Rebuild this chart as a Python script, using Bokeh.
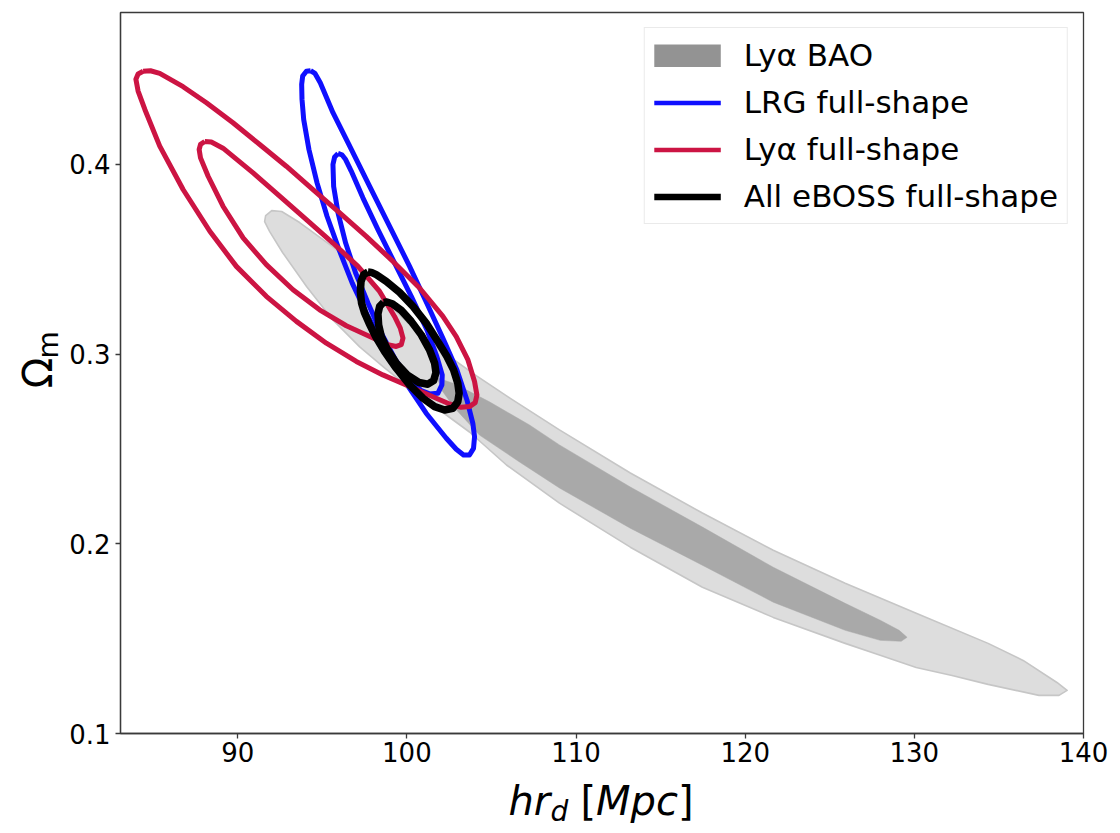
from math import pi
from bokeh.plotting import figure
from bokeh.layouts import row, column
from bokeh.models import Range1d, FixedTicker, Legend, LegendItem, Label
from bokeh.embed import file_html
from bokeh.resources import INLINE

# ---------------- data ----------------
x_ticks = [90, 100, 110, 120, 130, 140]
y_ticks = [0.1, 0.2, 0.3, 0.4]
x_limits = [83.07, 140.0]
y_limits = [0.1, 0.48]

# Ly-alpha BAO, outer (2 sigma) region
lya_bao_2sig_x = [91.65, 92.01, 92.60, 93.66, 95.61, 97.21, 98.39, 100.16, 102.11, 104.12,
                  106.07, 109.02, 113.21, 117.47, 121.66, 125.91, 130.11, 134.36, 136.43,
                  138.43, 139.03, 138.55, 137.37, 134.36, 132.23, 130.11, 127.98, 125.91,
                  121.66, 117.47, 113.21, 109.02, 105.89, 103.70, 101.93, 100.16, 98.68,
                  97.21, 95.61, 94.08, 92.66, 91.89, 91.59]
lya_bao_2sig_y = [0.3730, 0.3756, 0.3751, 0.3693, 0.3566, 0.3445, 0.3313, 0.3154, 0.3012, 0.2885,
                  0.2769, 0.2600, 0.2373, 0.2162, 0.1966, 0.1792, 0.1634, 0.1475, 0.1385,
                  0.1269, 0.1227, 0.1201, 0.1201, 0.1259, 0.1306, 0.1348, 0.1412, 0.1475,
                  0.1612, 0.1771, 0.1982, 0.2214, 0.2415, 0.2589, 0.2705, 0.2822, 0.2927,
                  0.3038, 0.3181, 0.3355, 0.3534, 0.3645, 0.3698]

# Ly-alpha BAO, inner (1 sigma) region
lya_bao_1sig_x = [101.81, 102.82, 104.88, 107.25, 109.02, 113.21, 117.47, 121.66, 125.91,
                  127.98, 129.10, 129.57, 129.22, 127.98, 125.91, 121.66, 117.47, 113.21,
                  109.02, 106.66, 104.29, 102.82, 102.05]
lya_bao_1sig_y = [0.2874, 0.2843, 0.2748, 0.2626, 0.2521, 0.2299, 0.2088, 0.1876, 0.1686,
                  0.1597, 0.1544, 0.1507, 0.1486, 0.1491, 0.1544, 0.1692, 0.1887, 0.2082,
                  0.2294, 0.2431, 0.2573, 0.2716, 0.2811]

# LRG full-shape contours
lrg_fs_2sig_x = [94.31, 94.06, 93.84, 93.78, 93.80, 93.90, 94.21, 94.69, 95.28, 95.99, 96.77,
                 97.70, 98.78, 99.96, 101.14, 102.33, 102.92, 103.35, 103.70, 103.94, 104.00,
                 103.90, 103.55, 102.96, 102.17, 101.18, 100.16, 98.98, 97.80, 96.62, 95.63,
                 94.88, 94.57]
lrg_fs_2sig_y = [0.4493, 0.4490, 0.4465, 0.4421, 0.4342, 0.4236, 0.4078, 0.3902, 0.3726, 0.3550,
                 0.3374, 0.3198, 0.3022, 0.2846, 0.2688, 0.2556, 0.2498, 0.2468, 0.2468, 0.2503,
                 0.2564, 0.2635, 0.2758, 0.2916, 0.3075, 0.3268, 0.3462, 0.3673, 0.3884, 0.4096,
                 0.4272, 0.4430, 0.4479]
lrg_fs_1sig_x = [95.93, 95.73, 95.63, 95.67, 95.93, 96.38, 96.97, 97.70, 98.49, 99.33, 100.16,
                 100.85, 101.34, 101.83, 102.07, 102.09, 101.77, 101.18, 100.26, 99.27, 98.29,
                 97.40, 96.71, 96.38, 96.16]
lrg_fs_1sig_y = [0.4057, 0.4039, 0.3999, 0.3884, 0.3744, 0.3585, 0.3427, 0.3269, 0.3110, 0.2969,
                 0.2864, 0.2807, 0.2790, 0.2793, 0.2837, 0.2890, 0.2987, 0.3128, 0.3304, 0.3480,
                 0.3656, 0.3823, 0.3964, 0.4025, 0.4050]

# Ly-alpha full-shape contours
lya_fs_2sig_x = [84.41, 84.84, 85.39, 86.77, 88.15, 89.72, 91.30, 92.87, 94.45, 96.03, 97.60,
                 99.18, 100.75, 102.13, 102.92, 103.61, 104.00, 104.14, 104.04, 103.70, 103.21,
                 102.52, 101.74, 100.16, 98.58, 97.01, 95.24, 93.47, 91.69, 89.92, 88.35,
                 86.77, 85.39, 84.51, 84.11, 83.98, 84.11]
lya_fs_2sig_y = [0.4490, 0.4493, 0.4479, 0.4409, 0.4324, 0.4219, 0.4104, 0.3990, 0.3867, 0.3744,
                 0.3620, 0.3488, 0.3348, 0.3198, 0.3092, 0.2969, 0.2855, 0.2784, 0.2744, 0.2723,
                 0.2719, 0.2737, 0.2767, 0.2829, 0.2890, 0.2961, 0.3057, 0.3172, 0.3304, 0.3462,
                 0.3647, 0.3867, 0.4096, 0.4289, 0.4386, 0.4448, 0.4476]
lya_fs_1sig_x = [88.05, 88.44, 89.13, 90.91, 92.48, 94.06, 95.63, 97.11, 98.39, 99.27, 99.61,
                 99.77, 99.67, 99.37, 98.88, 98.00, 96.42, 94.84, 93.27, 91.69, 90.32, 89.13,
                 88.25, 87.80, 87.72, 87.80]
lya_fs_1sig_y = [0.4120, 0.4117, 0.4085, 0.3955, 0.3832, 0.3708, 0.3585, 0.3462, 0.3330, 0.3198,
                 0.3137, 0.3084, 0.3049, 0.3040, 0.3049, 0.3084, 0.3149, 0.3233, 0.3339, 0.3471,
                 0.3612, 0.3779, 0.3937, 0.4034, 0.4078, 0.4105]

# All eBOSS full-shape contours
eboss_2sig_x = [97.70, 97.44, 97.29, 97.25, 97.32, 97.50, 97.76, 98.15, 98.68, 99.37, 100.16,
                100.95, 101.64, 102.23, 102.72, 103.01, 103.09, 103.01, 102.76, 102.37, 101.83,
                101.14, 100.36, 99.57, 98.78, 98.19, 97.90]
eboss_2sig_y = [0.3432, 0.3418, 0.3383, 0.3330, 0.3268, 0.3216, 0.3163, 0.3092, 0.3013, 0.2925,
                0.2837, 0.2767, 0.2723, 0.2705, 0.2714, 0.2749, 0.2793, 0.2846, 0.2916, 0.2987,
                0.3066, 0.3163, 0.3251, 0.3325, 0.3383, 0.3418, 0.3430]
eboss_1sig_x = [98.62, 98.39, 98.29, 98.33, 98.49, 98.84, 99.37, 100.02, 100.71, 101.24, 101.58,
                101.72, 101.64, 101.34, 100.85, 100.26, 99.67, 99.14, 98.82]
eboss_1sig_y = [0.3272, 0.3251, 0.3212, 0.3154, 0.3092, 0.3026, 0.2952, 0.2890, 0.2850, 0.2841,
                0.2860, 0.2902, 0.2952, 0.3022, 0.3101, 0.3172, 0.3230, 0.3265, 0.3274]

legend_labels = ["Lyα BAO", "LRG full-shape", "Lyα full-shape", "All eBOSS full-shape"]


def closed(v):
    return list(v) + [v[0]]


# ---------------- styles ----------------
BLUE = "#0f0fff"
RED = "#cc1443"
BLACK = "#000000"
FONT = "DejaVu Sans"
AXC = "#3a3a3a"

# ---------------- main plot ----------------
p = figure(width=1054, height=775, output_backend="svg", toolbar_location=None,
           x_range=Range1d(*x_limits), y_range=Range1d(*y_limits),
           min_border_left=54, min_border_right=37, min_border_top=12, min_border_bottom=42,
           background_fill_color="white", border_fill_color="white")

p.xgrid.visible = False
p.ygrid.visible = False
p.outline_line_color = AXC
p.outline_line_width = 1.3

p.xaxis.ticker = FixedTicker(ticks=x_ticks)
p.yaxis.ticker = FixedTicker(ticks=y_ticks)
for ax in (p.xaxis, p.yaxis):
    ax.major_label_text_font = FONT
    ax.major_label_text_font_size = "26px"
    ax.major_label_text_color = "black"
    ax.axis_line_color = AXC
    ax.axis_line_width = 1.3
    ax.major_tick_line_color = AXC
    ax.major_tick_line_width = 1.3
    ax.major_tick_out = 5
    ax.major_tick_in = 0
    ax.minor_tick_line_color = None
p.xaxis.major_label_standoff = 3
p.yaxis.major_label_standoff = 5

# BAO filled regions
p.patch(lya_bao_2sig_x, lya_bao_2sig_y, fill_color="#dddddd", line_color="#c6c6c6",
        line_width=1.6, line_join="round")
p.patch(lya_bao_1sig_x, lya_bao_1sig_y, fill_color="#a9a9a9", line_color="#a9a9a9",
        line_width=0.5, line_join="round")

# Contour lines
for xs, ys in ((lrg_fs_2sig_x, lrg_fs_2sig_y), (lrg_fs_1sig_x, lrg_fs_1sig_y)):
    p.line(closed(xs), closed(ys), line_color=BLUE, line_width=5, line_join="round")
for xs, ys in ((lya_fs_2sig_x, lya_fs_2sig_y), (lya_fs_1sig_x, lya_fs_1sig_y)):
    p.line(closed(xs), closed(ys), line_color=RED, line_width=5, line_join="round")
for xs, ys in ((eboss_2sig_x, eboss_2sig_y), (eboss_1sig_x, eboss_1sig_y)):
    p.line(closed(xs), closed(ys), line_color=BLACK, line_width=7.5, line_join="round")

# Hidden proxies that only style the legend swatches
leg_bao = p.line(lya_bao_1sig_x, lya_bao_1sig_y, line_color="#939393", line_width=23,
                 line_cap="butt", visible=False)
leg_lrg = p.line(lrg_fs_1sig_x, lrg_fs_1sig_y, line_color=BLUE, line_width=4.5,
                 line_cap="butt", visible=False)
leg_lya = p.line(lya_fs_1sig_x, lya_fs_1sig_y, line_color=RED, line_width=4.5,
                 line_cap="butt", visible=False)
leg_all = p.line(eboss_1sig_x, eboss_1sig_y, line_color=BLACK, line_width=6.5,
                 line_cap="butt", visible=False)

legend = Legend(items=[LegendItem(label=legend_labels[0], renderers=[leg_bao]),
                       LegendItem(label=legend_labels[1], renderers=[leg_lrg]),
                       LegendItem(label=legend_labels[2], renderers=[leg_lya]),
                       LegendItem(label=legend_labels[3], renderers=[leg_all])],
                location="top_right", margin=15, padding=9, spacing=11,
                label_text_font=FONT, label_text_font_size="31px", label_height=34,
                label_text_color="black",
                glyph_width=67, glyph_height=23, label_standoff=23,
                border_line_color="#d6d6d6", border_line_width=1.2,
                background_fill_color="white", background_fill_alpha=0.85,
                inactive_fill_alpha=0.0)
p.add_layout(legend)


def blank(w, h):
    f = figure(width=w, height=h, output_backend="svg", toolbar_location=None,
               x_range=Range1d(0, w), y_range=Range1d(0, h),
               x_axis_type=None, y_axis_type=None, min_border=0,
               background_fill_color="white", border_fill_color="white")
    f.outline_line_color = None
    return f


def lab(f, text, x, y, size, style="normal", angle=0.0):
    f.add_layout(Label(x=x, y=y, text=text, text_font=FONT, text_font_size=size,
                       text_font_style=style, text_color="black", text_align="left",
                       text_baseline="alphabetic", angle=angle))


# y-axis title (Omega_m)
fy = blank(66, 775)
lab(fy, "Ω", 37, 371, "40px", angle=pi / 2)
lab(fy, "m", 47.5, 403, "28px", angle=pi / 2)

# x-axis title (hr_d [Mpc])
fx = blank(1120, 58)
lab(fx, "hr", 508, 33, "40px", "italic")
lab(fx, "d", 550, 22.5, "28px", "italic")
lab(fx, "[", 580, 33, "40px")
lab(fx, "Mpc", 595.6, 33, "40px", "italic")
lab(fx, "]", 677.5, 33, "40px")

layout = column(row(fy, p, spacing=0), fx, spacing=0)

open("out.html", "w").write(file_html(layout, INLINE))
